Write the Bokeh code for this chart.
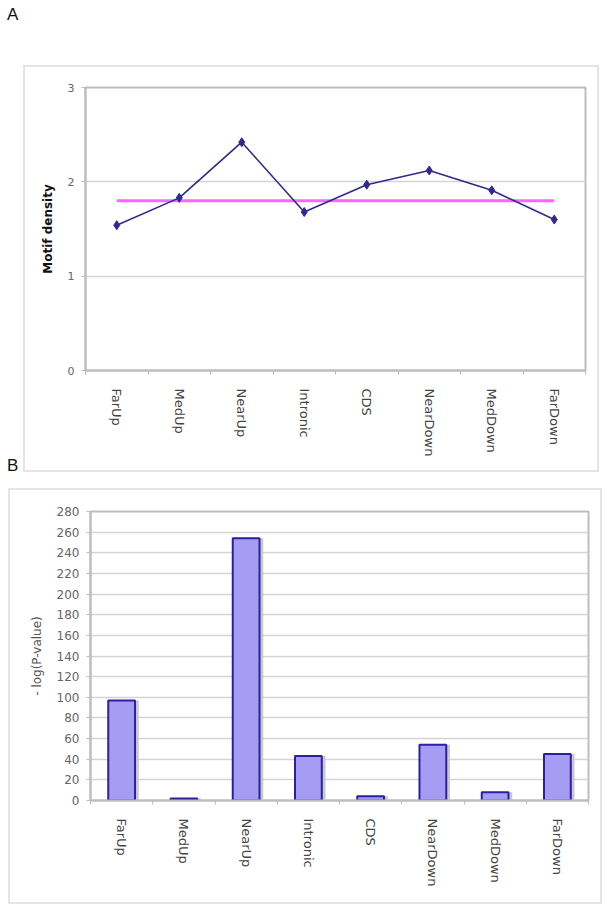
from bokeh.plotting import figure
from bokeh.layouts import column, row
from bokeh.models import Range1d, FixedTicker, Div
from bokeh.embed import file_html
from bokeh.resources import INLINE

categories = ["FarUp", "MedUp", "NearUp", "Intronic", "CDS", "NearDown", "MedDown", "FarDown"]
motif_density = [1.54, 1.83, 2.42, 1.68, 1.97, 2.12, 1.91, 1.60]
baseline_density = [1.80, 1.80, 1.80, 1.80, 1.80, 1.80, 1.80, 1.80]
neg_log_p = [97, 2, 254, 43, 4, 54, 8, 45]
a_yticks = [0, 1, 2, 3]
b_yticks = [0, 20, 40, 60, 80, 100, 120, 140, 160, 180, 200, 220, 240, 260, 280]

n = len(categories)
xc = [i + 0.5 for i in range(n)]
bounds = list(range(n + 1))
label_map = {xc[i]: categories[i] for i in range(n)}

FONT = "DejaVu Sans"
GRID = "#d4d4d4"
FRAME = "#bdbdbd"
BOX = {"outline": "2px solid #e4e4e4"}


def style(p, yticks, ytitle, ytitle_bold, ytitle_color, ytick_size):
    p.xaxis.ticker = FixedTicker(ticks=xc, minor_ticks=bounds)
    p.xaxis.major_label_overrides = label_map
    p.xaxis.major_label_orientation = "vertical"
    p.xaxis.major_tick_out = 0
    p.xaxis.major_tick_in = 0
    p.xaxis.minor_tick_out = 4
    p.xaxis.minor_tick_in = 0
    p.xaxis.minor_tick_line_color = FRAME
    p.xaxis.major_label_text_font = FONT
    p.xaxis.major_label_text_font_size = "13px"
    p.xaxis.major_label_text_color = "#444444"
    p.xaxis.major_label_standoff = 14
    p.xaxis.axis_line_color = FRAME
    p.xaxis.axis_line_width = 2
    p.xgrid.visible = False
    p.yaxis.ticker = FixedTicker(ticks=yticks)
    p.yaxis.minor_tick_line_color = None
    p.yaxis.major_tick_out = 4
    p.yaxis.major_tick_in = 0
    p.yaxis.major_tick_line_color = FRAME
    p.yaxis.axis_line_color = FRAME
    p.yaxis.axis_line_width = 2
    p.yaxis.major_label_text_font = FONT
    p.yaxis.major_label_text_font_size = ytick_size
    p.yaxis.major_label_text_color = "#666666"
    p.yaxis.major_label_standoff = 7
    p.yaxis.axis_label = ytitle
    p.yaxis.axis_label_text_font = FONT
    p.yaxis.axis_label_text_font_size = "12px"
    p.yaxis.axis_label_text_font_style = "bold" if ytitle_bold else "normal"
    p.yaxis.axis_label_text_color = ytitle_color
    p.yaxis.axis_label_standoff = 10
    p.ygrid.grid_line_color = GRID
    p.ygrid.grid_line_width = 1.5
    p.outline_line_color = FRAME
    p.outline_line_width = 2
    p.background_fill_color = "white"
    p.border_fill_color = "white"


LBL = "position:absolute; font-family:'Liberation Sans'; font-size:17px; color:#111; line-height:17px;"
div_a = Div(text=f'<div style="{LBL} left:7px; top:6px;">A</div>',
            width=610, height=67, margin=(0, 0, 0, 0))
div_b = Div(text=f'<div style="{LBL} left:7px; top:390px;">B</div>',
            width=25, height=403, margin=(0, 0, 0, 0))

# ---------- Panel A ----------
pa = figure(width=572, height=403, output_backend="svg", toolbar_location=None,
            x_range=Range1d(0, n), y_range=Range1d(0, 3),
            min_border_left=60, min_border_right=12, min_border_top=20, min_border_bottom=100,
            margin=(0, 0, 0, 0), styles=BOX)
style(pa, a_yticks, "Motif density", True, "#111111", "11px")
pa.line(xc, baseline_density, line_color="#ff66ff", line_width=3)
pa.line(xc, motif_density, line_color="#2e2a8e", line_width=1.6)
pa.scatter(xc, motif_density, marker="diamond", size=9, fill_color="#2e2a8e", line_color="#2e2a8e")

# ---------- Panel B ----------
pb = figure(width=590, height=412, output_backend="svg", toolbar_location=None,
            x_range=Range1d(0, n), y_range=Range1d(0, 280),
            min_border_left=80, min_border_right=12, min_border_top=21, min_border_bottom=102,
            margin=(20, 0, 0, 10), styles=BOX)
style(pb, b_yticks, "- log(P-value)", False, "#555555", "12px")
pb.vbar(x=[v + 0.06 for v in xc], top=neg_log_p, width=0.43, fill_color="#c8c8c8",
        line_color=None)
pb.vbar(x=xc, top=neg_log_p, width=0.43, fill_color="#a69cf4",
        line_color="#2e1f9e", line_width=2)

layout = column(div_a, row(div_b, pa, margin=(0, 0, 0, 0)), pb, margin=(0, 0, 0, 0))
open("out.html", "w").write(file_html(layout, INLINE))
